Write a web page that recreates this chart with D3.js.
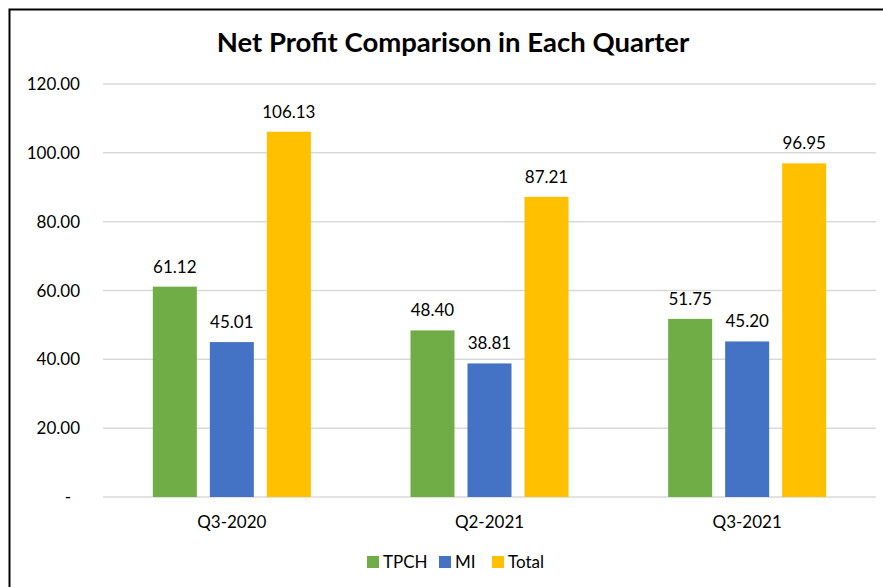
<!DOCTYPE html>
<html>
<head>
  <meta charset="utf-8">
  <script src="https://cdnjs.cloudflare.com/ajax/libs/d3/7.8.5/d3.min.js"></script>
  <title>Net Profit Comparison</title>
  <style>
    body { margin: 0; background: #fff; }
    text { font-family: Lato, "Open Sans", sans-serif; fill: #000; }
  </style>
</head>
<body>
<script>
// data
const quarters = ["Q3-2020", "Q2-2021", "Q3-2021"];
const seriesNames = ["TPCH", "MI", "Total"];
const tpch = [61.12, 48.40, 51.75];
const mi = [45.01, 38.81, 45.20];
const total = [106.13, 87.21, 96.95];
const yTicks = [0, 20, 40, 60, 80, 100, 120];
const colors = ["#70ad47", "#4472c4", "#ffc000"];

const seriesValues = [tpch, mi, total];
const rows = quarters.map((q, i) => ({
  quarter: q,
  values: seriesNames.map((s, j) => ({ series: s, value: seriesValues[j][i] }))
}));

const W = 883, H = 587;
const svg = d3.select("body").append("svg")
    .attr("width", W)
    .attr("height", H);

// chart border (only top/left visible in crop)
svg.append("rect")
    .attr("x", 9.5).attr("y", 9.5)
    .attr("width", W + 20).attr("height", H + 20)
    .attr("fill", "none")
    .attr("stroke", "#000")
    .attr("stroke-width", 2);

const x0 = d3.scaleBand()
    .domain(quarters)
    .range([103, 876])
    .padding(0);

const x1 = d3.scaleBand()
    .domain(seriesNames)
    .range([0, x0.bandwidth()])
    .paddingInner(0.228)
    .paddingOuter(0.874);

const y = d3.scaleLinear()
    .domain([0, 120])
    .range([497, 84]);

const color = d3.scaleOrdinal().domain(seriesNames).range(colors);

// title
svg.append("text")
    .attr("x", 453)
    .attr("y", 52)
    .attr("text-anchor", "middle")
    .style("font-weight", "bold")
    .style("font-size", "27.5px")
    .text("Net Profit Comparison in Each Quarter");

// gridlines
svg.append("g")
  .selectAll("line")
  .data(yTicks)
  .join("line")
    .attr("x1", 103).attr("x2", 876)
    .attr("y1", d => y(d)).attr("y2", d => y(d))
    .attr("stroke", "#d9d9d9")
    .attr("stroke-width", 1.5);

// y axis labels
const fmt = d3.format(".2f");
svg.append("g")
  .selectAll("text")
  .data(yTicks)
  .join("text")
    .attr("x", d => d === 0 ? 71 : 80)
    .attr("y", d => y(d) + 6)
    .attr("text-anchor", "end")
    .style("font-size", "17px")
    .text(d => d === 0 ? "-" : fmt(d));

// bars
const groups = svg.append("g")
  .selectAll("g")
  .data(rows)
  .join("g")
    .attr("transform", d => "translate(" + x0(d.quarter) + ",0)");

groups.selectAll("rect")
  .data(d => d.values)
  .join("rect")
    .attr("x", d => x1(d.series))
    .attr("y", d => y(d.value))
    .attr("width", x1.bandwidth())
    .attr("height", d => y(0) - y(d.value))
    .attr("fill", d => color(d.series));

groups.selectAll("text")
  .data(d => d.values)
  .join("text")
    .attr("x", d => x1(d.series) + x1.bandwidth() / 2)
    .attr("y", d => y(d.value) - 14)
    .attr("text-anchor", "middle")
    .style("font-size", "17px")
    .text(d => fmt(d.value));

// x labels
svg.append("g")
  .selectAll("text")
  .data(quarters)
  .join("text")
    .attr("x", d => x0(d) + x0.bandwidth() / 2)
    .attr("y", 528)
    .attr("text-anchor", "middle")
    .style("font-size", "17px")
    .text(d => d);

// legend
const legendX = [367, 439, 492];
const legend = svg.append("g")
  .selectAll("g")
  .data(seriesNames)
  .join("g")
    .attr("transform", (d, i) => "translate(" + legendX[i] + ",556)");
legend.append("rect")
    .attr("width", 12).attr("height", 12)
    .attr("fill", d => color(d));
legend.append("text")
    .attr("x", 16)
    .attr("y", 12)
    .style("font-size", "17px")
    .text(d => d);
</script>
</body>
</html>
